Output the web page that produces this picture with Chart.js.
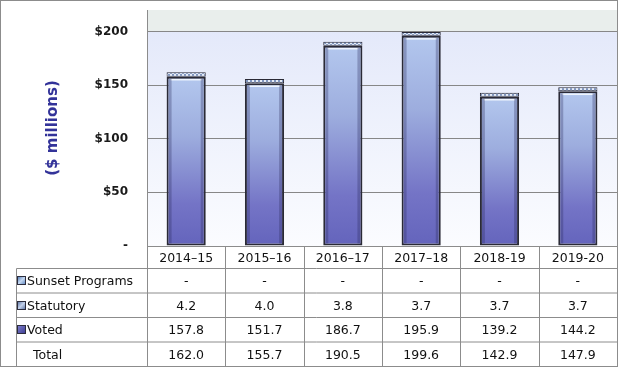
<!DOCTYPE html>
<html>
<head>
<meta charset="utf-8">
<script src="https://cdn.jsdelivr.net/npm/chart.js@4"></script>
<style>
    html, body { margin: 0; padding: 0; background: #fff; }
    #wrap { width: 619px; height: 369px; position: relative; }
</style>
</head>
<body>
<div id="wrap"><canvas id="chart" width="619" height="369"></canvas></div>
<script>
// values
const years = ["2014–15", "2015–16", "2016–17", "2017–18", "2018-19", "2019-20"];
const sunset = [null, null, null, null, null, null];
const statutory = [4.2, 4.0, 3.8, 3.7, 3.7, 3.7];
const voted = [157.8, 151.7, 186.7, 195.9, 139.2, 144.2];
const totals = [162.0, 155.7, 190.5, 199.6, 142.9, 147.9];
const yTicks = [0, 50, 100, 150, 200];

const rowNames = ["Sunset Programs", "Statutory", "Voted", "Total"];

const el = document.getElementById("chart");
const ctx = el.getContext("2d");

Chart.defaults.font.family = "'DejaVu Sans', sans-serif";

// checker pattern for the thin Statutory segment
function statPattern() {
    const c = document.createElement("canvas");
    c.width = 4; c.height = 4;
    const p = c.getContext("2d");
    p.fillStyle = "#7f95bf";
    p.fillRect(0, 0, 4, 4);
    p.fillStyle = "#e6edf8";
    p.fillRect(0, 0, 2, 2);
    p.fillRect(2, 2, 2, 2);
    return ctx.createPattern(c, "repeat");
}

function fmt(v) {
    return (v === null || v === undefined) ? "-" : v.toFixed(1);
}

// plot background: grey band above $200, pale blue fade below
const plotBackground = {
    id: "plotBackground",
    beforeDraw(chart) {
        const a = chart.chartArea;
        const c = chart.ctx;
        const y200 = chart.scales.y.getPixelForValue(200);
        c.save();
        c.fillStyle = "#e9eeec";
        c.fillRect(a.left, a.top, a.right - a.left, y200 - a.top);
        const g = c.createLinearGradient(0, y200, 0, a.bottom);
        g.addColorStop(0, "#e4e9fa");
        g.addColorStop(1, "#fbfcff");
        c.fillStyle = g;
        c.fillRect(a.left, y200, a.right - a.left, a.bottom - y200);
        c.restore();
    }
};

// little 3D touches on the voted bars
const bevel = {
    id: "bevel",
    afterDatasetsDraw(chart) {
        const c = chart.ctx;
        const meta = chart.getDatasetMeta(0);
        c.save();
        meta.data.forEach(b => {
            const l = b.x - b.width / 2, r = b.x + b.width / 2;
            // highlight under the top edge
            c.strokeStyle = "rgba(245,250,255,0.9)";
            c.lineWidth = 1.5;
            c.beginPath();
            c.moveTo(l + 4, b.y + 3);
            c.lineTo(r - 4, b.y + 3);
            c.stroke();
            // darker side edges
            c.fillStyle = "rgba(40,40,90,0.3)";
            c.fillRect(l + 2, b.y + 2, 3, b.base - b.y - 4);
            c.fillRect(r - 5, b.y + 2, 3, b.base - b.y - 4);
        });
        c.restore();
    }
};

// legend squares for the table
function drawIcon(c, x, y, kind) {
    const g = c.createLinearGradient(x, y, x + 9, y + 9);
    if (kind === 0) {
        g.addColorStop(0, "#3f6aaa"); g.addColorStop(0.5, "#c4d8f2"); g.addColorStop(1, "#4d78b6");
    } else if (kind === 1) {
        g.addColorStop(0, "#4a6496"); g.addColorStop(0.5, "#c3d1ea"); g.addColorStop(1, "#4a6496");
    } else {
        g.addColorStop(0, "#8484d2"); g.addColorStop(1, "#38388e");
    }
    c.fillStyle = g;
    c.fillRect(x, y, 9, 9);
    c.strokeStyle = "#2c2c3c";
    c.lineWidth = 1;
    c.strokeRect(x + 0.5, y + 0.5, 8, 8);
}

// data table under the plot, aligned to the x scale
const dataTable = {
    id: "dataTable",
    afterDraw(chart) {
        const c = chart.ctx;
        const a = chart.chartArea;
        const xs = chart.scales.x;
        const colW = (a.right - a.left) / years.length;
        const lines = [a.bottom, 268.5, 293, 317.5, 342, 366.5];
        const leftX = 16.5;
        c.save();
        c.strokeStyle = "#8c8c8c";
        c.lineWidth = 1;
        c.beginPath();
        // horizontal lines
        c.moveTo(a.left, lines[0] + 0.5); c.lineTo(a.right, lines[0] + 0.5);
        for (let i = 1; i < lines.length; i++) {
            c.moveTo(leftX, lines[i]); c.lineTo(a.right, lines[i]);
        }
        // vertical lines
        c.moveTo(leftX, lines[1]); c.lineTo(leftX, lines[5]);
        for (let i = 0; i <= years.length; i++) {
            const x = Math.round(a.left + i * colW) + 0.5;
            c.moveTo(x, lines[0]); c.lineTo(x, lines[5]);
        }
        c.stroke();

        c.fillStyle = "#111";
        c.font = "12.5px 'DejaVu Sans', sans-serif";
        c.textBaseline = "middle";
        c.textAlign = "center";
        const rows = [sunset, statutory, voted, totals];
        years.forEach((yr, i) => {
            const cx = xs.getPixelForValue(i);
            c.fillText(yr, cx, (lines[0] + lines[1]) / 2 + 1);
            rows.forEach((arr, r) => {
                c.fillText(fmt(arr[i]), cx, (lines[r + 1] + lines[r + 2]) / 2 + 1);
            });
        });
        c.textAlign = "left";
        rowNames.forEach((name, r) => {
            const cy = (lines[r + 1] + lines[r + 2]) / 2;
            if (r < 3) {
                drawIcon(c, 17, Math.round(cy - 4.5), r);
                c.fillStyle = "#111";
                c.fillText(name, 27, cy + 1);
            } else {
                c.fillText(name, 33, cy + 1);
            }
        });

        // outer frame
        c.strokeStyle = "#8c8c8c";
        c.strokeRect(0.5, 0.5, 617, 366);
        c.restore();
    }
};

new Chart(el, {
    type: "bar",
    data: {
        labels: years,
        datasets: [
            {
                label: "Voted",
                data: voted,
                backgroundColor: (context) => {
                    const chart = context.chart;
                    const area = chart.chartArea;
                    if (!area || context.type !== "data") return "#8c96d6";
                    const top = chart.scales.y.getPixelForValue(voted[context.dataIndex]);
                    const g = chart.ctx.createLinearGradient(0, top, 0, area.bottom);
                    g.addColorStop(0, "#b3c7ee");
                    g.addColorStop(0.35, "#9dadde");
                    g.addColorStop(0.75, "#7474c6");
                    g.addColorStop(1, "#6464bc");
                    return g;
                },
                borderColor: "#2a2a36",
                borderWidth: 2,
                borderSkipped: false
            },
            {
                label: "Statutory",
                data: statutory,
                backgroundColor: statPattern(),
                borderColor: "#2a2a36",
                borderWidth: 1,
                borderSkipped: false
            },
            {
                label: "Sunset Programs",
                data: sunset,
                backgroundColor: "#9fc0e8",
                borderColor: "#2a2a36",
                borderWidth: 1
            }
        ]
    },
    options: {
        responsive: false,
        devicePixelRatio: 1,
        animation: false,
        layout: { padding: { top: 10, right: 2, bottom: 123, left: 0 } },
        datasets: { bar: { barPercentage: 0.5, categoryPercentage: 1 } },
        plugins: {
            legend: { display: false },
            tooltip: { enabled: false }
        },
        scales: {
            x: {
                stacked: true,
                display: false
            },
            y: {
                stacked: true,
                min: 0,
                max: 220,
                afterBuildTicks: (scale) => {
                    scale.ticks = yTicks.map(v => ({ value: v }));
                },
                afterFit: (scale) => {
                    scale.width = 147;
                    scale.paddingTop = 0;
                    scale.paddingBottom = 0;
                },
                grid: {
                    color: "#878787",
                    drawTicks: false
                },
                border: { display: true, color: "#8c8c8c" },
                ticks: {
                    padding: 19,
                    color: "#1a1a1a",
                    font: { size: 12, weight: "bold" },
                    callback: (v) => v === 0 ? "-" : "$" + v
                },
                title: {
                    display: true,
                    text: "($ millions)",
                    color: "#333399",
                    font: { size: 15, weight: "bold" },
                    padding: { top: 44, bottom: 0 }
                }
            }
        }
    },
    plugins: [plotBackground, bevel, dataTable]
});
</script>
</body>
</html>
